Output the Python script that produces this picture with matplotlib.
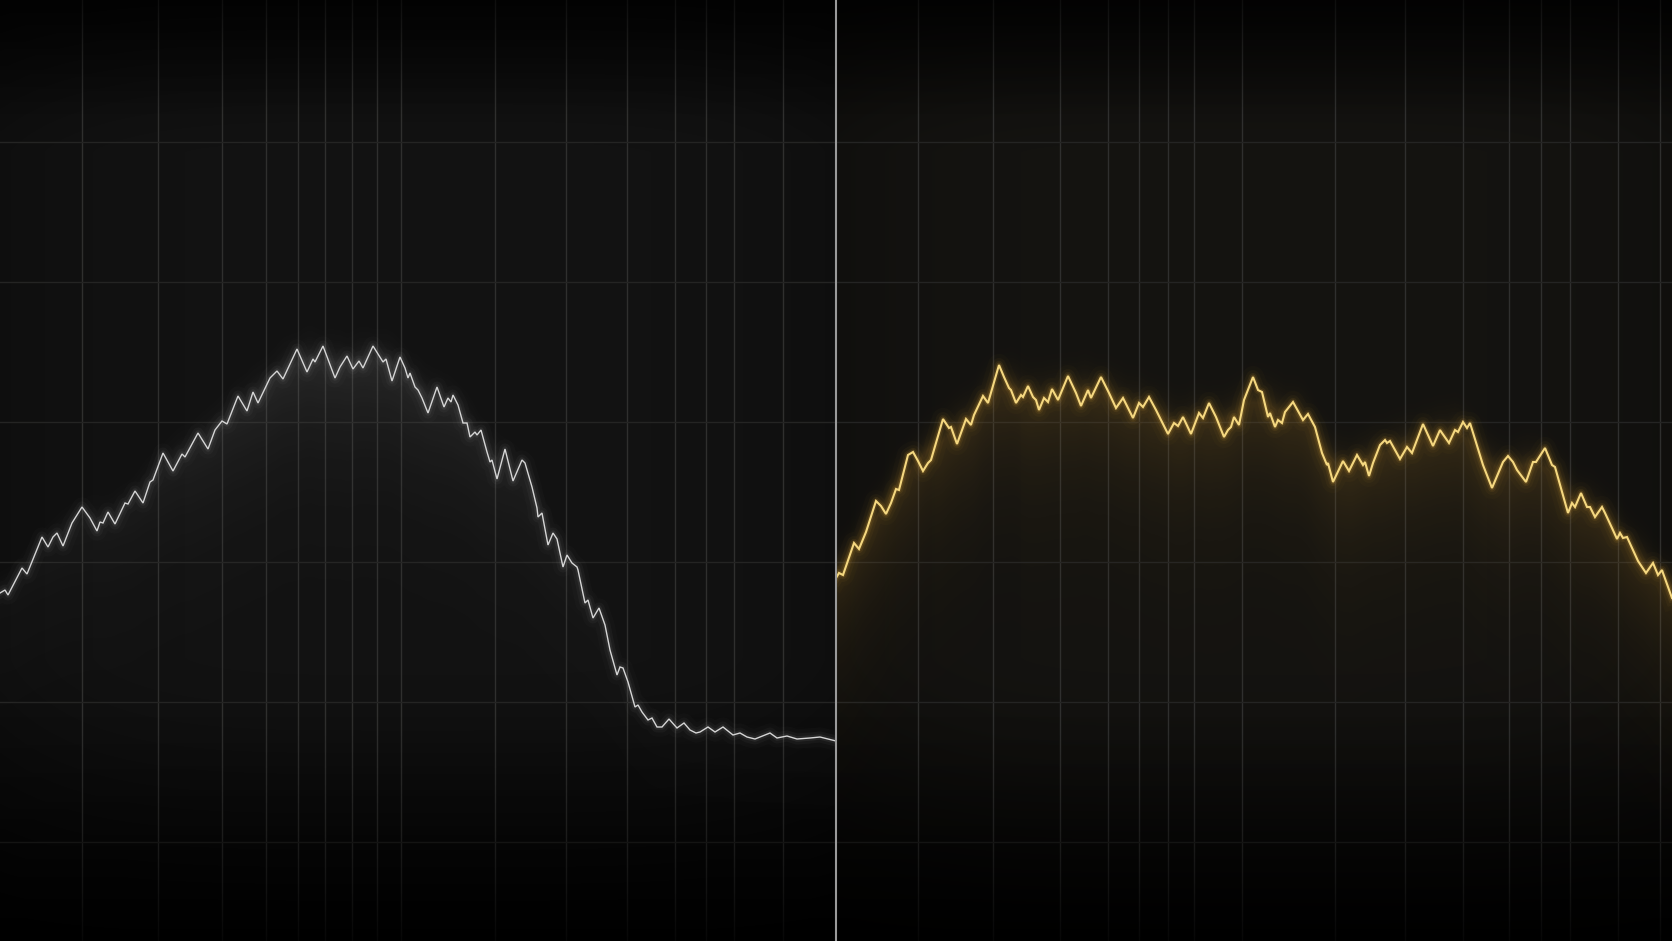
import numpy as np
import matplotlib
matplotlib.use("Agg")
import matplotlib.pyplot as plt
from matplotlib.colors import to_rgb

# ---------------- data ----------------
left_t = [0, 5, 8, 22, 27, 42, 48, 53, 57, 63, 72, 82, 90, 97, 100, 103, 108, 115, 125, 128,
          135, 143, 150, 153, 163, 173, 182, 185, 198, 208, 215, 222, 227, 238, 247, 253, 258,
          270, 277, 283, 297, 307, 313, 315, 323, 335, 340, 347, 353, 359, 363, 373, 383, 386,
          392, 400, 405, 408, 410, 415, 418, 422, 428, 437, 444, 448, 451, 453, 458, 463, 467,
          470, 475, 477, 481, 487, 490, 492, 497, 505, 513, 522, 525, 532, 537, 538, 542, 548,
          553, 557, 563, 567, 572, 577, 578, 585, 588, 593, 599, 605, 610, 617, 620, 623, 628,
          635, 638, 642, 648, 652, 657, 662, 669, 677, 684, 690, 696, 700, 708, 715, 723, 733,
          740, 747, 755, 770, 777, 787, 797, 810, 820, 836]
left_v = [348, 351, 346, 373, 367, 404, 394, 404, 408, 395, 418, 434, 423, 410, 419, 418, 429,
          417, 438, 437, 450, 438, 459, 461, 488, 470, 487, 484, 508, 492, 511, 520, 517, 545,
          530, 549, 538, 563, 570, 562, 592, 569, 582, 579, 595, 563, 574, 585, 572, 580, 573,
          595, 579, 582, 560, 584, 573, 563, 568, 554, 551, 543, 528, 554, 534, 543, 539, 546,
          536, 518, 518, 504, 509, 506, 511, 489, 479, 481, 462, 492, 460, 481, 478, 454, 433,
          424, 428, 396, 408, 402, 374, 386, 378, 374, 371, 338, 341, 323, 333, 316, 291, 266,
          274, 273, 259, 234, 236, 229, 221, 223, 214, 214, 222, 213, 218, 211, 208, 209, 214,
          209, 214, 206, 208, 204, 202, 208, 203, 205, 202, 203, 204, 200]

right_t = [0, 3, 7, 18, 23, 30, 40, 45, 50, 55, 60, 63, 72, 77, 82, 87, 92, 95, 107, 113, 115,
           121, 130, 135, 138, 147, 152, 163, 168, 173, 175, 180, 185, 187, 192, 197, 200, 203,
           208, 212, 216, 222, 232, 240, 245, 252, 255, 265, 273, 280, 287, 293, 297, 303, 307,
           313, 320, 325, 332, 338, 342, 347, 355, 363, 367, 373, 380, 388, 392, 395, 398, 403,
           408, 417, 422, 426, 432, 434, 439, 442, 446, 449, 457, 467, 472, 479, 486, 491, 492,
           497, 507, 513, 521, 527, 529, 533, 537, 544, 549, 551, 554, 564, 571, 576, 587, 597,
           604, 606, 613, 619, 622, 627, 631, 634, 647, 656, 667, 672, 677, 681, 690, 697, 700,
           709, 716, 719, 732, 736, 739, 745, 751, 754, 759, 766, 769, 776, 781, 784, 787, 791,
           796, 802, 810, 817, 822, 826, 827, 836]
right_v = [363, 368, 366, 398, 392, 409, 440, 435, 427, 438, 452, 451, 486, 489, 480, 470, 478,
           481, 522, 513, 514, 497, 522, 516, 526, 545, 538, 576, 564, 553, 551, 538, 546, 544,
           555, 544, 541, 531, 543, 539, 552, 541, 565, 548, 535, 551, 543, 564, 548, 533, 543,
           531, 523, 538, 534, 544, 531, 521, 507, 518, 515, 524, 507, 528, 523, 538, 524, 504,
           511, 514, 524, 516, 541, 564, 551, 549, 524, 528, 514, 521, 518, 529, 539, 521, 527,
           514, 488, 476, 478, 459, 480, 470, 486, 476, 479, 465, 478, 496, 501, 498, 500, 482,
           494, 488, 517, 495, 511, 508, 498, 511, 509, 519, 513, 518, 476, 453, 479, 485, 479,
           471, 459, 479, 479, 493, 476, 474, 428, 438, 434, 448, 434, 434, 424, 434, 428, 413,
           402, 408, 403, 404, 393, 380, 368, 378, 366, 371, 368, 343]

# grid positions (panel units)
left_vgrid = [82, 158, 222, 266, 298, 325, 352, 377, 401, 495, 566, 627, 675, 706, 734, 783]
right_vgrid = [82, 157, 224, 272, 303, 332, 358, 406, 499, 569, 627, 673, 705, 734, 782, 824]
hgrid = [799, 659, 519, 379, 239, 99]

W, H = 836, 941

fig = plt.figure(figsize=(16.72, 9.41), dpi=100)
fig.patch.set_facecolor("#0b0b0b")


def background(ax, center, edge_top, edge_bot):
    yy = np.linspace(0, 1, 300)[:, None]  # 0 bottom, 1 top
    xx = np.linspace(0, 1, 300)[None, :]
    c = np.array(center)[None, None, :]
    t = np.array(edge_top)[None, None, :]
    b = np.array(edge_bot)[None, None, :]
    wb = np.clip((0.30 - yy) / 0.30, 0, 1) ** 1.3
    wt = np.clip((yy - 0.84) / 0.16, 0, 1) ** 1.2
    img = c * (1 - wb[..., None] - wt[..., None]) + b * wb[..., None] + t * wt[..., None]
    img = np.broadcast_to(img, (300, 300, 3)).copy()
    side = (np.abs(xx - 0.5) * 2) ** 4 * 0.2
    img = img * (1 - side[..., None])
    ax.imshow(img, extent=(0, W, 0, H), origin="lower", aspect="auto", zorder=0,
              interpolation="bilinear")


def overlay(ax):
    yy = np.linspace(0, 1, 300)[:, None]
    a_b = np.clip((0.24 - yy) / 0.24, 0, 1) ** 1.2 * 0.85
    a_t = np.clip((yy - 0.88) / 0.12, 0, 1) ** 1.0 * 0.7
    a = np.clip(a_b + a_t, 0, 0.92)
    rgba = np.zeros((300, 2, 4))
    rgba[..., 3] = np.broadcast_to(a, (300, 2))
    ax.imshow(rgba, extent=(0, W, 0, H), origin="lower", aspect="auto", zorder=2,
              interpolation="bilinear")


def setup(ax, vgrid):
    ax.set_xlim(0, W)
    ax.set_ylim(0, H)
    for s in ax.spines.values():
        s.set_visible(False)
    ax.set_xticks(vgrid)
    ax.set_yticks(hgrid)
    ax.tick_params(length=0, labelbottom=False, labelleft=False)
    ax.grid(True, axis="x", color="#2f2f2e", lw=1.0)
    ax.grid(True, axis="y", color="#242423", lw=1.0)
    ax.set_axisbelow(True)
    for l in ax.get_xgridlines() + ax.get_ygridlines():
        l.set_zorder(1)


def glow_fill(ax, t, v, color, amax, length, peak_weight=0.0, smooth=41):
    """Soft haze around/below the line, fading with distance under a smoothed envelope."""
    xs = np.linspace(0, W, 836)
    ys = np.linspace(0, H, 941)
    line = np.interp(xs, t, v)
    k = np.ones(smooth) / smooth
    pad = np.pad(line, smooth // 2, mode="edge")
    env = np.convolve(pad, k, mode="valid")
    d = env[None, :] - ys[:, None]
    a = np.where(d >= 0, np.exp(-d / length), np.exp(d / 12.0))
    if peak_weight:
        hw = np.clip((env - env.min()) / (env.max() - env.min()), 0, 1) ** 2
        a = a * (1 - peak_weight + peak_weight * hw[None, :])
    rgba = np.zeros((941, 836, 4))
    rgba[..., :3] = to_rgb(color)
    rgba[..., 3] = a * amax
    ax.imshow(rgba, extent=(0, W, 0, H), origin="lower", aspect="auto", zorder=3,
              interpolation="bilinear")


axL = fig.add_axes([0, 0, 0.5, 1])
axR = fig.add_axes([0.5, 0, 0.5, 1])

background(axL, (0.072, 0.072, 0.072), (0.035, 0.035, 0.035), (0.018, 0.018, 0.018))
background(axR, (0.080, 0.076, 0.066), (0.04, 0.038, 0.034), (0.018, 0.018, 0.016))
setup(axL, left_vgrid)
setup(axR, right_vgrid)
overlay(axL)
overlay(axR)

# ---------------- left series (white) ----------------
lt = np.array(left_t, float)
lv = np.array(left_v, float)
glow_fill(axL, lt, lv, "#d0d0d0", 0.12, 80, peak_weight=0.85)
for lw, a in [(14, 0.015), (8, 0.03), (4, 0.06)]:
    axL.plot(lt, lv, color="#ffffff", lw=lw, alpha=a, solid_joinstyle="round", zorder=4)
axL.plot(lt, lv, color="#d6d6d6", lw=1.0, solid_joinstyle="miter", zorder=5)

# ---------------- right series (gold) ----------------
rt = np.array(right_t, float)
rv = np.array(right_v, float)
glow_fill(axR, rt, rv, "#b5842c", 0.22, 70)
for lw, a in [(16, 0.025), (10, 0.045), (6, 0.08), (3.5, 0.16)]:
    axR.plot(rt, rv, color="#e0a83a", lw=lw, alpha=a, solid_joinstyle="round", zorder=4)
axR.plot(rt, rv, color="#f5d880", lw=1.5, solid_joinstyle="miter", zorder=5)

# divider between panels
fig.add_artist(plt.Line2D([0.5, 0.5], [0, 1], transform=fig.transFigure,
                          color="#9a9a9a", lw=1.5, zorder=10))

fig.savefig("out.png", dpi=100, facecolor=fig.get_facecolor())
